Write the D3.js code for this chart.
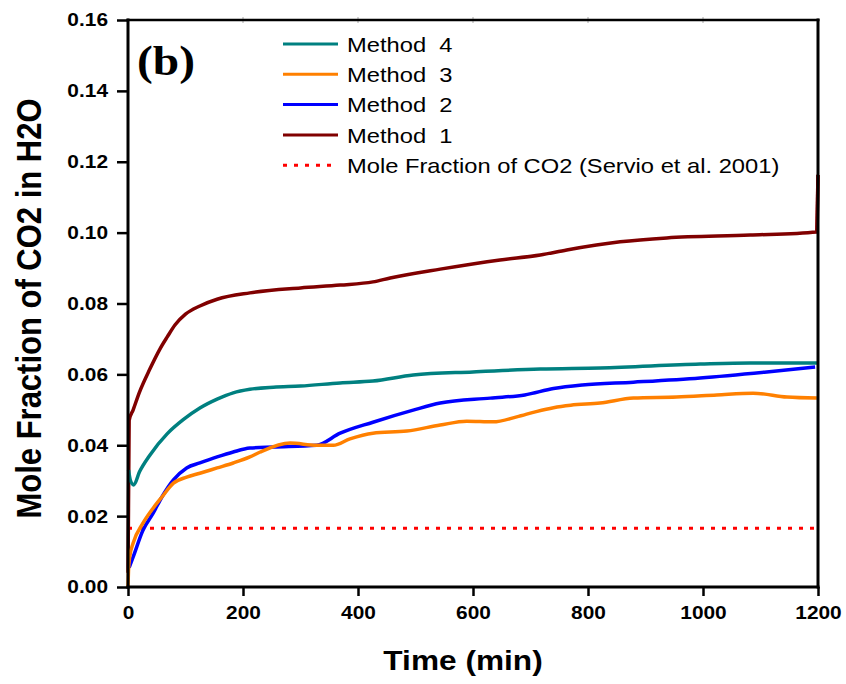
<!DOCTYPE html>
<html>
<head>
<meta charset="utf-8">
<script src="https://cdn.jsdelivr.net/npm/d3@7"></script>
<style>
  html, body { margin: 0; padding: 0; background: #fff; }
  svg { display: block; }
</style>
</head>
<body>
<svg id="chart" width="846" height="684"></svg>
<script>
// Dissolved CO2 mole fraction in water over time, four methods
const xTicks = [0, 200, 400, 600, 800, 1000, 1200];
const yTicks = [0.00, 0.02, 0.04, 0.06, 0.08, 0.10, 0.12, 0.14, 0.16];

const method1Time  = [0, 2, 9, 20, 38, 55, 68, 82, 100, 125, 155, 212, 300, 369, 426, 456, 543, 647, 717, 763, 856, 937, 1082, 1198, 1200];
const method1Value = [0.004, 0.047, 0.050, 0.055, 0.0615, 0.0670, 0.0705, 0.0740, 0.0770, 0.0793, 0.0812, 0.0830, 0.0844, 0.0852, 0.0861, 0.0872, 0.0897, 0.0923, 0.0937, 0.0951, 0.0974, 0.0985, 0.0993, 0.1002, 0.1163];

const method2Time  = [2, 9, 26, 44, 59, 79, 102, 125, 155, 183, 212, 253, 328, 369, 426, 496, 543, 630, 690, 740, 790, 879, 995, 1111, 1195];
const method2Value = [0.0055, 0.0085, 0.0160, 0.0209, 0.0254, 0.0302, 0.0336, 0.0350, 0.0367, 0.0381, 0.0392, 0.0395, 0.0400, 0.0434, 0.0465, 0.0499, 0.0519, 0.0533, 0.0542, 0.0560, 0.0570, 0.0578, 0.0590, 0.0607, 0.0621];

const method3Time  = [0, 1, 3, 9, 26, 44, 59, 79, 102, 125, 155, 183, 212, 230, 282, 328, 357, 386, 426, 485, 543, 589, 635, 676, 710, 740, 770, 821, 879, 954, 1024, 1087, 1146, 1198];
const method3Value = [0.0, 0.0050, 0.0085, 0.0124, 0.0180, 0.0223, 0.0254, 0.0293, 0.0310, 0.0321, 0.0336, 0.0350, 0.0367, 0.0381, 0.0406, 0.0400, 0.0400, 0.0418, 0.0434, 0.0440, 0.0457, 0.0468, 0.0466, 0.0480, 0.0495, 0.0506, 0.0513, 0.0519, 0.0533, 0.0536, 0.0542, 0.0547, 0.0536, 0.0533];

const method4Time  = [1, 4, 10, 20, 38, 68, 96, 125, 155, 183, 212, 253, 300, 369, 426, 496, 600, 717, 821, 995, 1082, 1200];
const method4Value = [0.0330, 0.0302, 0.0288, 0.0325, 0.0372, 0.0432, 0.0472, 0.0505, 0.0530, 0.0548, 0.0558, 0.0564, 0.0567, 0.0576, 0.0581, 0.0598, 0.0607, 0.0615, 0.0618, 0.0629, 0.0632, 0.0632];

const referenceValue = 0.0166;

const seriesNames  = ["Method  4", "Method  3", "Method  2", "Method  1"];
const seriesColors = ["#008080", "#ff8000", "#0000ff", "#800000"];
const referenceName = "Mole Fraction of CO2 (Servio et al. 2001)";

const svg = d3.select("#chart");
const margin = { left: 128, top: 20, right: 28, bottom: 97 };
const W = 846 - margin.left - margin.right;
const H = 684 - margin.top - margin.bottom;
// text in this figure is set slightly wide
const SX = 1.13;

const x = d3.scaleLinear().domain([0, 1200]).range([0, W]);
const y = d3.scaleLinear().domain([0, 0.16]).range([H, 0]);

const g = svg.append("g").attr("transform", `translate(${margin.left},${margin.top})`);

svg.append("defs").append("clipPath").attr("id", "plotClip")
  .append("rect").attr("x", -2).attr("y", -2).attr("width", W + 4).attr("height", H + 4);

const zip = (ts, vs) => ts.map((t, i) => [t, vs[i]]);
const series = [
  zip(method4Time, method4Value),
  zip(method3Time, method3Value),
  zip(method2Time, method2Value),
  zip(method1Time, method1Value)
];

const line = d3.line().x(d => x(d[0])).y(d => y(d[1])).curve(d3.curveMonotoneX);

const plot = g.append("g").attr("clip-path", "url(#plotClip)");

// reference solubility
plot.append("line")
  .attr("x1", x(0)).attr("x2", x(1200))
  .attr("y1", y(referenceValue)).attr("y2", y(referenceValue))
  .attr("stroke", "#ff0000").attr("stroke-width", 3)
  .attr("stroke-dasharray", "4,7");

// draw Method 1 first so the lower curves sit on top at the origin
[3, 0, 2, 1].forEach(i => {
  plot.append("path")
    .datum(series[i])
    .attr("d", line)
    .attr("fill", "none")
    .attr("stroke", seriesColors[i])
    .attr("stroke-width", 3.5)
    .attr("stroke-linejoin", "round");
});

// axes
const font = "Liberation Sans, Arial, sans-serif";

const xAxis = d3.axisBottom(x).tickValues(xTicks).tickSize(9).tickPadding(9.5).tickFormat(d3.format("d"));
const xg = g.append("g").attr("transform", `translate(0,${H})`).call(xAxis);
xg.select(".domain").remove();
xg.selectAll(".tick line").attr("stroke", "#000").attr("stroke-width", 2.5);
xg.selectAll(".tick text").attr("font-family", font).attr("font-weight", "bold")
  .attr("font-size", 18.5).attr("fill", "#000")
  .attr("transform", `scale(${SX},1)`);

const yAxis = d3.axisLeft(y).tickValues(yTicks).tickSize(11).tickFormat(d3.format(".2f"));
const yg = g.append("g").call(yAxis);
yg.select(".domain").remove();
yg.selectAll(".tick line").attr("stroke", "#000").attr("stroke-width", 2.5);
yg.selectAll(".tick text").attr("font-family", font).attr("font-weight", "bold")
  .attr("font-size", 18.5).attr("fill", "#000")
  .attr("x", -20 / SX)
  .attr("transform", `scale(${SX},1)`);

// faint ticks along the top edge
g.append("g").selectAll("line").data(xTicks.slice(1, -1)).join("line")
  .attr("x1", d => x(d)).attr("x2", d => x(d))
  .attr("y1", -3).attr("y2", 3)
  .attr("stroke", "#aaa").attr("stroke-width", 1);

// frame
g.append("line").attr("x1", 0).attr("x2", 0).attr("y1", -1.5).attr("y2", H + 1.5)
  .attr("stroke", "#000").attr("stroke-width", 3);
g.append("line").attr("x1", -1.5).attr("x2", W + 1.5).attr("y1", H).attr("y2", H)
  .attr("stroke", "#000").attr("stroke-width", 3);
g.append("line").attr("x1", W).attr("x2", W).attr("y1", -1.5).attr("y2", H + 1.5)
  .attr("stroke", "#000").attr("stroke-width", 3);
g.append("line").attr("x1", -1.5).attr("x2", W + 1.5).attr("y1", 0).attr("y2", 0)
  .attr("stroke", "#000").attr("stroke-width", 2.5);

// Method 1 end step drawn over the right frame
plot.append("path")
  .datum(series[3].slice(-2))
  .attr("d", d3.line().x(d => x(d[0])).y(d => y(d[1])))
  .attr("fill", "none").attr("stroke", seriesColors[3]).attr("stroke-width", 3.5);

// axis titles
svg.append("text")
  .attr("transform", `translate(463,670) scale(${SX},1)`)
  .attr("text-anchor", "middle")
  .attr("font-family", font).attr("font-weight", "bold").attr("font-size", 28)
  .text("Time (min)");

svg.append("text")
  .attr("transform", `translate(41,308.5) scale(${SX},1) rotate(-90)`)
  .attr("text-anchor", "middle")
  .attr("font-family", font).attr("font-weight", "bold").attr("font-size", 31)
  .text("Mole Fraction of CO2 in H2O");

// panel label
svg.append("text")
  .attr("transform", `translate(137,75) scale(${SX},1)`)
  .attr("font-family", "Liberation Serif, Times New Roman, serif")
  .attr("font-weight", "bold").attr("font-size", 42)
  .text("(b)");

// legend
const legend = svg.append("g").attr("transform", "translate(283,44)");
const rowH = 30.3;
const rows = seriesNames.map((name, i) => ({ name, color: seriesColors[i], dash: null }))
  .concat([{ name: referenceName, color: "#ff0000", dash: "4,7" }]);
rows.forEach((r, i) => {
  const row = legend.append("g").attr("transform", `translate(0,${i * rowH})`);
  row.append("line").attr("x1", 0).attr("x2", 55).attr("y1", 0).attr("y2", 0)
    .attr("stroke", r.color).attr("stroke-width", 3)
    .attr("stroke-dasharray", r.dash);
  row.append("text")
    .attr("transform", `translate(64,7.7) scale(${SX},1)`)
    .attr("font-family", font).attr("font-size", 21)
    .style("white-space", "pre")
    .text(r.name);
});
</script>
</body>
</html>
